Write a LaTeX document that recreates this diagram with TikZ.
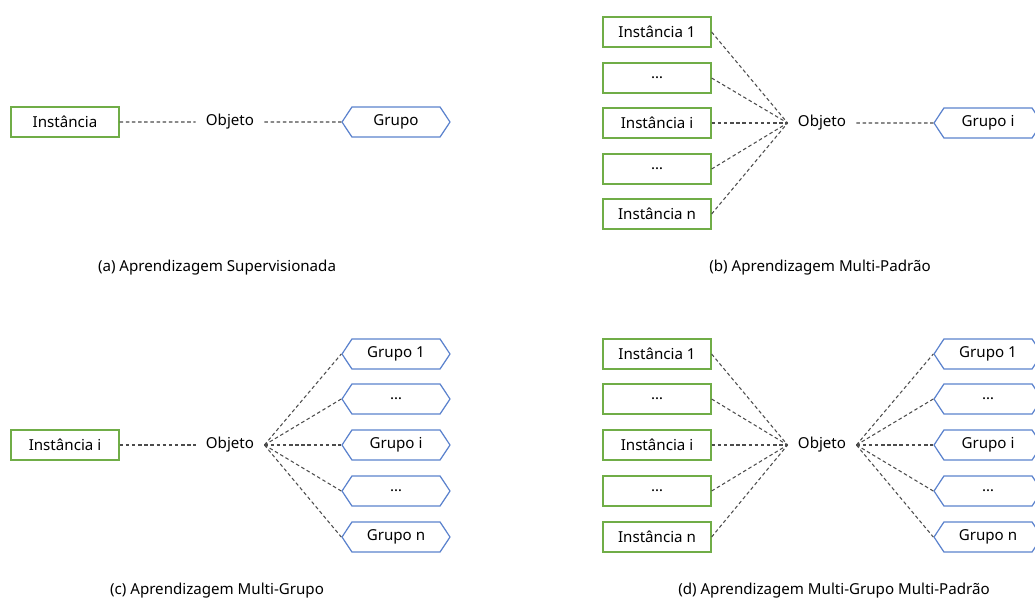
\documentclass[tikz,border=0pt]{standalone}
\usepackage{fontspec}
\setmainfont{Noto Sans}
\usetikzlibrary{shapes.symbols}
\definecolor{instgreen}{RGB}{112,173,71}
\definecolor{grpblue}{RGB}{91,130,205}
\begin{document}
\begin{tikzpicture}[x=0.02cm, y=-0.02cm, font=\fontsize{8.6}{10}\selectfont,
    inst/.style={rectangle, draw=instgreen, line width=0.7pt, minimum width=2.16cm, minimum height=0.6cm, inner sep=0pt},
    grp/.style={signal, signal to=west and east, signal pointer angle=113, draw=grpblue, line width=0.7pt, minimum width=2.16cm, minimum height=0.6cm, inner sep=0pt},
    obj/.style={inner sep=0.2cm},
    link/.style={draw=black!70, dash pattern=on 2pt off 1.5pt, line width=0.6pt}]
  \clip (0,0) rectangle (1035,600);
  % (a) Nodes
  \node (ai) at (65,122) [inst] {Instância};
  \node (aobj) at (230,122) [obj] {Objeto};
  \node (ag) at (396,122) [grp] {Grupo};
  \node (acap) at (217,268) {(a) Aprendizagem Supervisionada};
  % (a) Edges
  \draw[link] (ai) -- (aobj) -- (ag);

  % (b) Nodes
  \foreach \y/\t/\n in {32/Instância 1/1, 78/\ldots/2, 123/Instância i/3, 169/\ldots/4, 214/Instância n/5}
    \node (bi\n) at (657,\y) [inst] {\t};
  \node (bobj) at (822,123) [obj] {Objeto};
  \node (bg) at (988,123) [grp] {Grupo i};
  \node (bcap) at (820,268) {(b) Aprendizagem Multi-Padrão};
  % (b) Edges
  \foreach \n in {1,...,5}
    \draw[link] (bi\n.east) -- (bobj.west);
  \draw[link] (bobj) -- (bg);

  % (c) Nodes
  \node (ci) at (65,445) [inst] {Instância i};
  \node (cobj) at (230,445) [obj] {Objeto};
  \foreach \y/\t/\n in {354/Grupo 1/1, 399/\ldots/2, 445/Grupo i/3, 491/\ldots/4, 537/Grupo n/5}
    \node (cg\n) at (396,\y) [grp] {\t};
  \node (ccap) at (217,591) {(c) Aprendizagem Multi-Grupo};
  % (c) Edges
  \draw[link] (ci) -- (cobj);
  \foreach \n in {1,...,5}
    \draw[link] (cobj.east) -- (cg\n.west);

  % (d) Nodes
  \foreach \y/\t/\n in {354/Instância 1/1, 399/\ldots/2, 445/Instância i/3, 491/\ldots/4, 537/Instância n/5}
    \node (di\n) at (657,\y) [inst] {\t};
  \node (dobj) at (822,445) [obj] {Objeto};
  \foreach \y/\t/\n in {354/Grupo 1/1, 399/\ldots/2, 445/Grupo i/3, 491/\ldots/4, 537/Grupo n/5}
    \node (dg\n) at (988,\y) [grp] {\t};
  \node (dcap) at (834,591) {(d) Aprendizagem Multi-Grupo Multi-Padrão};
  % (d) Edges
  \foreach \n in {1,...,5} {
    \draw[link] (di\n.east) -- (dobj.west);
    \draw[link] (dobj.east) -- (dg\n.west);
  }
\end{tikzpicture}
\end{document}
